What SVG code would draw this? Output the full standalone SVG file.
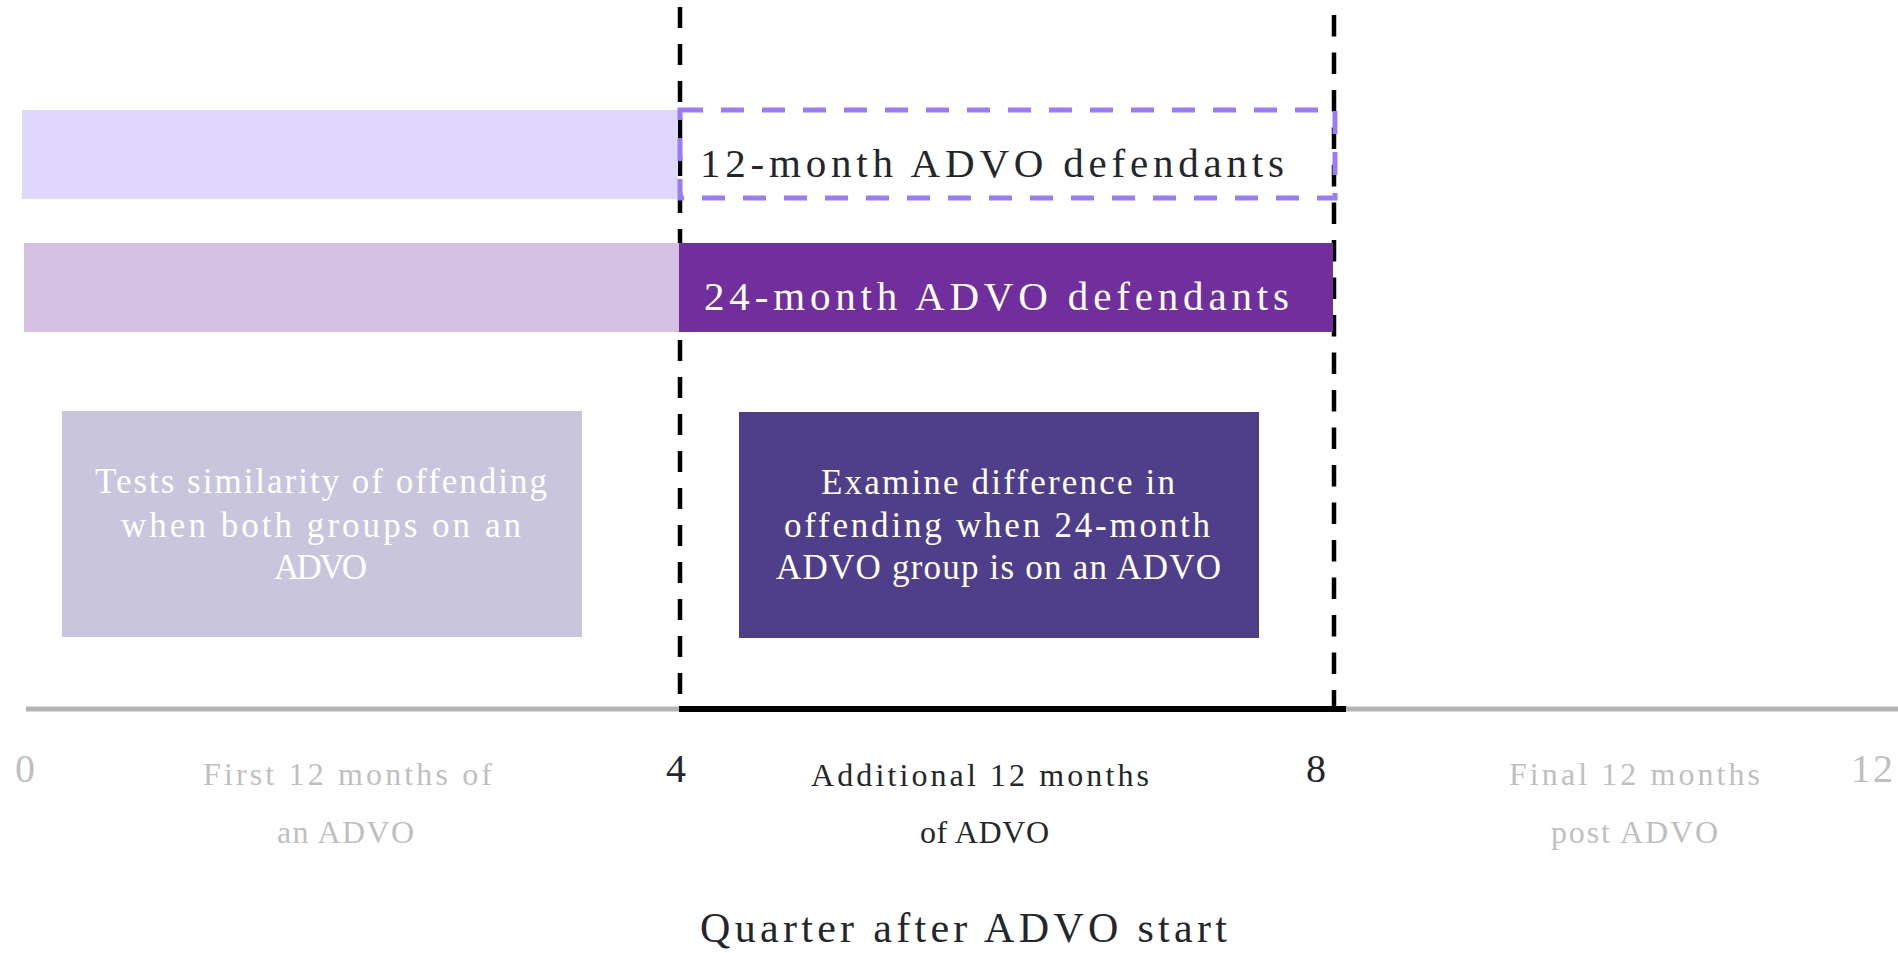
<svg xmlns="http://www.w3.org/2000/svg" width="1898" height="953" viewBox="0 0 1898 953">
<style>
text{font-family:"Liberation Serif","Times New Roman",serif;}
.vdash{stroke:#000;stroke-width:4.5;fill:none;}
.axisg{stroke:#B3B3B3;stroke-width:5;}
.axisb{stroke:#000;stroke-width:6;}
.tick{font-size:40px;}
.grey{fill:#BFBFBF;}
.dark{fill:#23272B;}
.wt{fill:#FFFFFF;font-size:35px;}
.seg{font-size:32px;}
</style>
<rect width="1898" height="953" fill="#FFFFFF"/>
<g id="connectors">
  <line class="vdash" x1="680" y1="7" x2="680" y2="709" stroke-dasharray="21 16"/>
  <line class="vdash" x1="1334" y1="15" x2="1334" y2="709" stroke-dasharray="21.5 16"/>
  <line class="axisg" x1="26" y1="709" x2="679" y2="709"/>
  <line class="axisg" x1="1346" y1="709" x2="1898" y2="709"/>
  <line class="axisb" x1="679" y1="709" x2="1346" y2="709"/>
</g>
<g id="bar12-pre">
  <rect x="22" y="110" width="656" height="89" fill="#E0D7FE"/>
</g>
<g id="bar12">
  <rect x="680" y="110" width="655" height="88" fill="none" stroke="#9B7CF8" stroke-width="5" stroke-dasharray="23 18"/>
  <text class="dark" x="700" y="177" font-size="41" textLength="584" lengthAdjust="spacing">12-month ADVO defendants</text>
</g>
<g id="bar24-pre">
  <rect x="24" y="243" width="656" height="89" fill="#D4C0E2"/>
</g>
<g id="bar24">
  <rect x="679" y="243" width="654" height="89" fill="#702F9C"/>
  <text x="704" y="310" font-size="41" fill="#FFFFFF" textLength="585" lengthAdjust="spacing">24-month ADVO defendants</text>
</g>
<g id="box-similarity">
  <rect x="62" y="411" width="520" height="226" fill="#C8C5DD"/>
  <text class="wt" x="95" y="493" textLength="452" lengthAdjust="spacing">Tests similarity of offending</text>
  <text class="wt" x="121" y="537" textLength="400" lengthAdjust="spacing">when both groups on an</text>
  <text class="wt" x="274" y="579" textLength="93" lengthAdjust="spacing">ADVO</text>
</g>
<g id="box-difference">
  <rect x="739" y="412" width="520" height="226" fill="#4F3F8B"/>
  <text class="wt" x="821" y="494" textLength="354" lengthAdjust="spacing">Examine difference in</text>
  <text class="wt" x="784" y="537" textLength="426" lengthAdjust="spacing">offending when 24-month</text>
  <text class="wt" x="776" y="579" textLength="445" lengthAdjust="spacing">ADVO group is on an ADVO</text>
</g>
<g id="ticks">
  <text class="tick grey" x="15" y="782">0</text>
  <text class="tick dark" x="666" y="782">4</text>
  <text class="tick dark" x="1306" y="782">8</text>
  <text class="tick grey" x="1851" y="782" textLength="42" lengthAdjust="spacing">12</text>
</g>
<g id="seg-first">
  <text class="seg grey" x="203" y="785" textLength="289" lengthAdjust="spacing">First 12 months of</text>
  <text class="seg grey" x="277" y="843" textLength="137" lengthAdjust="spacing">an ADVO</text>
</g>
<g id="seg-additional">
  <text class="seg dark" x="811" y="786" textLength="338" lengthAdjust="spacing">Additional 12 months</text>
  <text class="seg dark" x="920" y="843" textLength="129" lengthAdjust="spacing">of ADVO</text>
</g>
<g id="seg-final">
  <text class="seg grey" x="1509" y="785" textLength="251" lengthAdjust="spacing">Final 12 months</text>
  <text class="seg grey" x="1551" y="843" textLength="167" lengthAdjust="spacing">post ADVO</text>
</g>
<g id="axis-title">
  <text class="dark" x="700" y="942" font-size="42" textLength="527" lengthAdjust="spacing">Quarter after ADVO start</text>
</g>
</svg>
